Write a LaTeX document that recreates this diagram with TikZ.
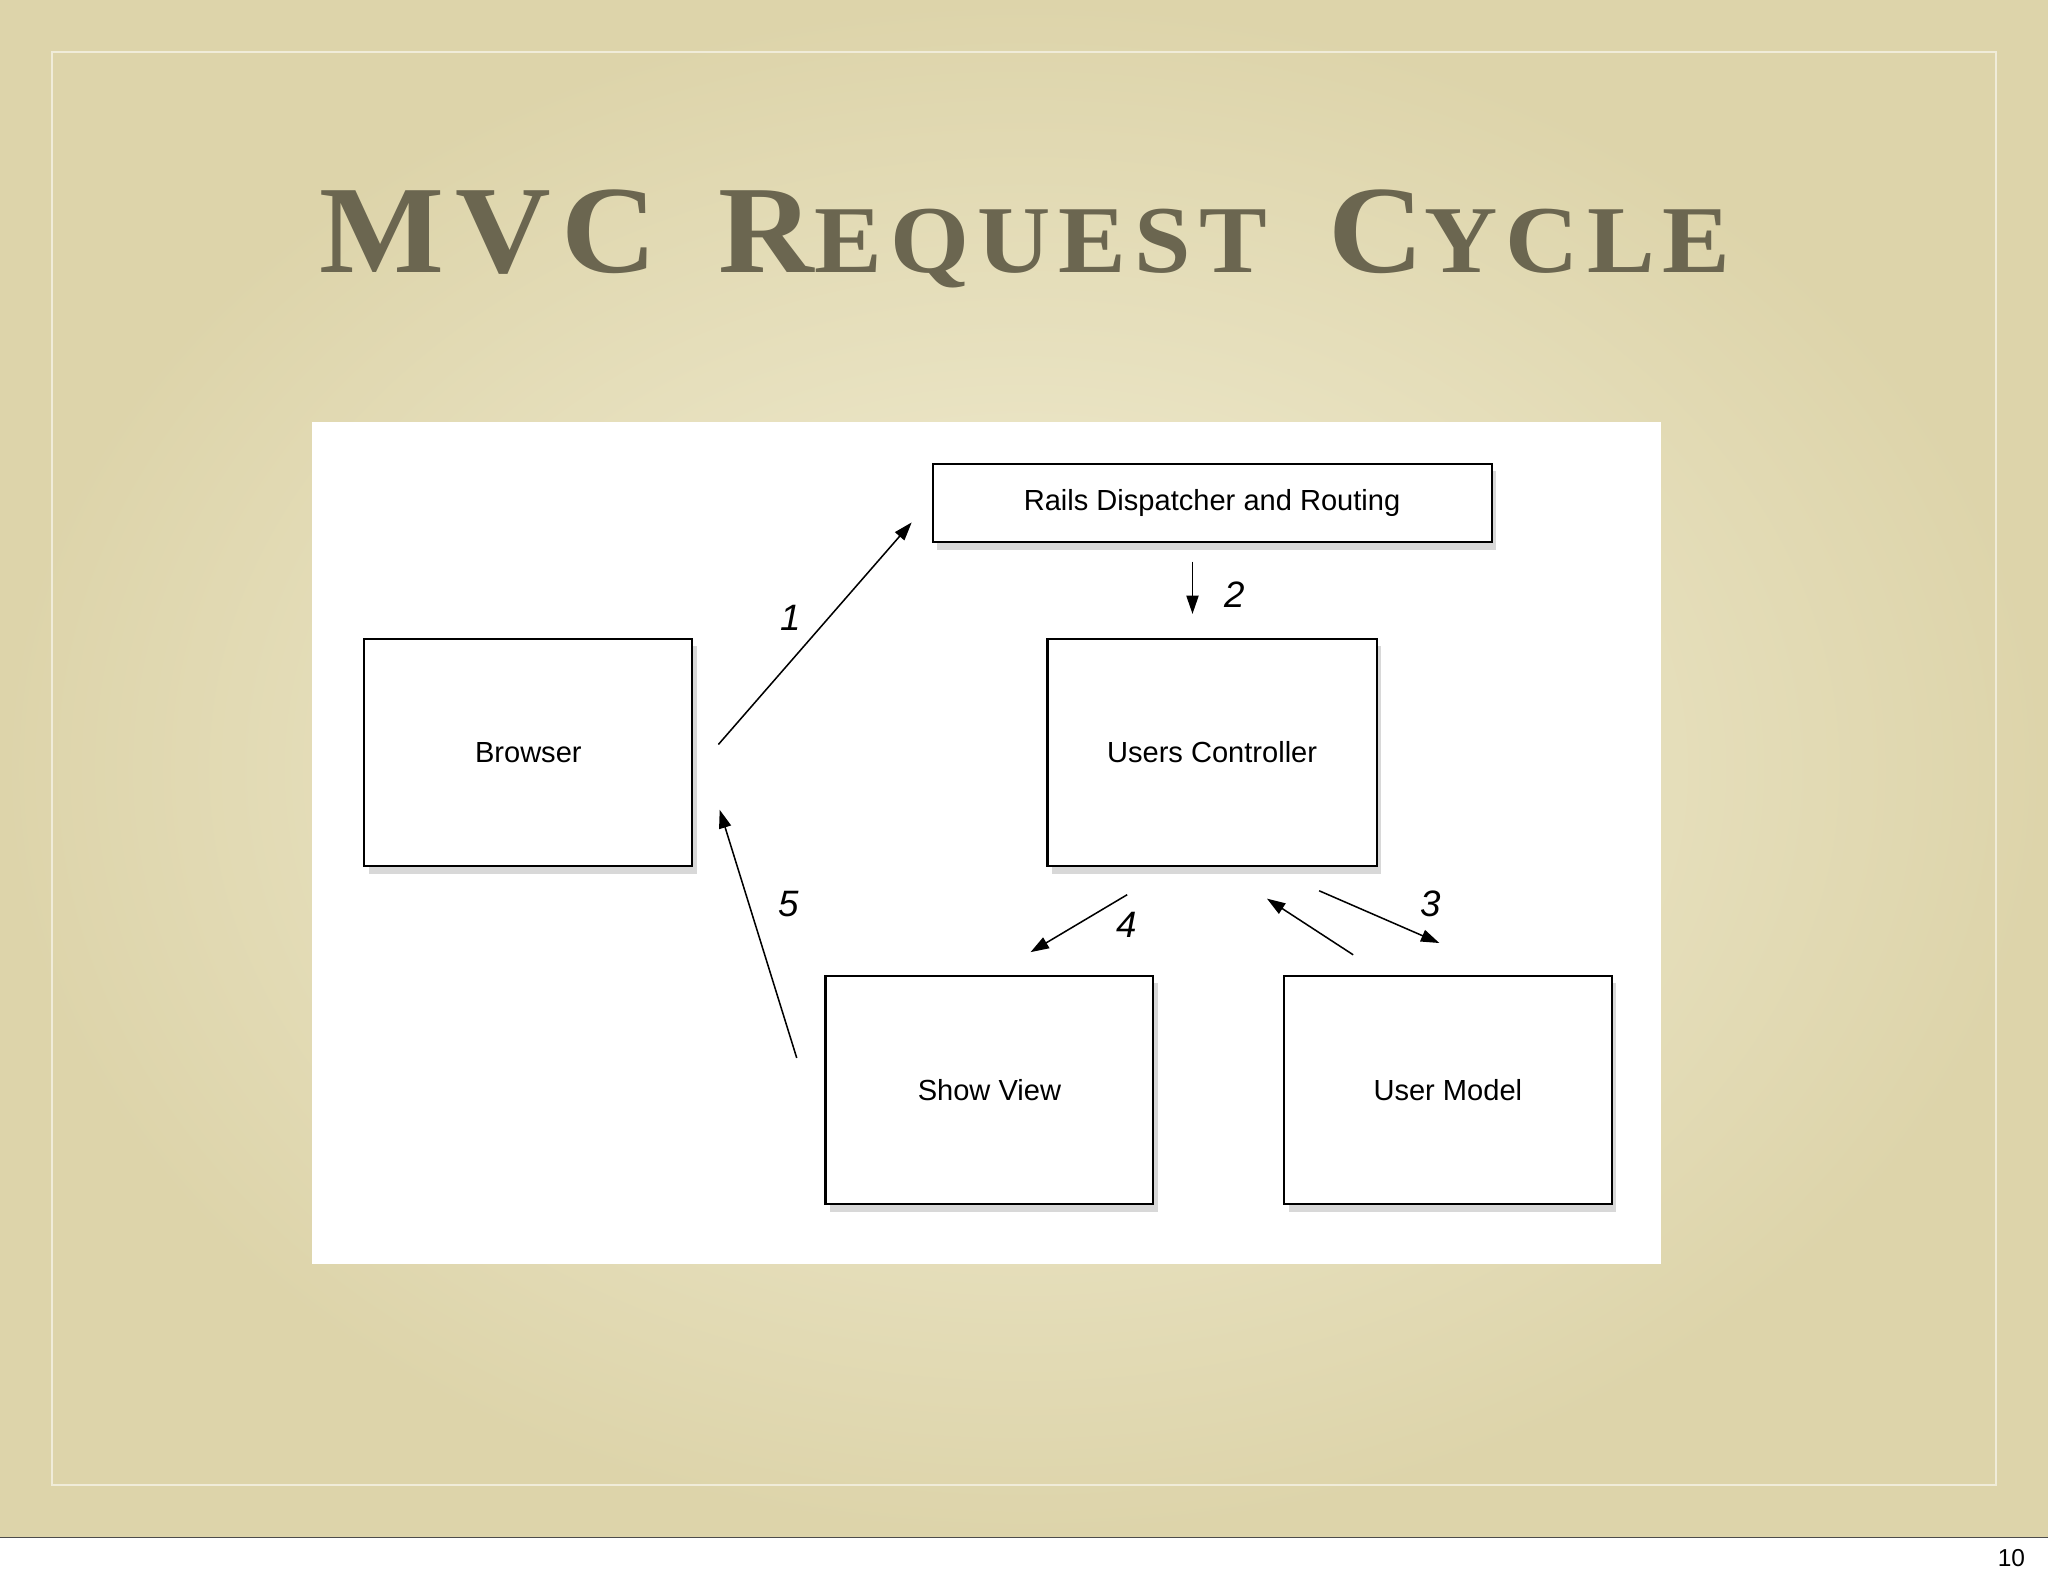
\documentclass[tikz,border=0pt]{standalone}
\usepackage{fontspec}
\setmainfont{Liberation Serif}
\setsansfont{Liberation Sans}
\newfontfamily\titfont[LetterSpace=8]{Liberation Serif}
\usepackage{graphicx}
\usetikzlibrary{arrows.meta,shadows}
\definecolor{bgc}{HTML}{DDD4AA}
\definecolor{bgl}{HTML}{F3EFD6}
\definecolor{titc}{HTML}{6B6650}
\newcommand{\bigc}[1]{{\fontsize{60}{60}\selectfont #1}}
\newcommand{\smc}[1]{{\fontsize{46}{46}\selectfont #1}}
\newcommand{\tgap}{\hspace{28pt}}
\tikzset{
 box/.style={draw=black,line width=1.4pt,fill=white,drop shadow={shadow xshift=3pt,shadow yshift=-5pt,opacity=0.3}},
 lbl/.style={font=\sffamily\fontsize{19}{22}\selectfont},
 num/.style={font=\sffamily\itshape\fontsize{24}{26}\selectfont},
 arr/.style={-{Triangle[length=12pt,width=8pt]},line width=1pt}
}
\begin{document}
\begin{tikzpicture}[x=0.03cm,y=-0.03cm]
\useasboundingbox (0,0) rectangle (1568,1215);
\fill[white] (0,0) rectangle (1568,1215);
\shade[inner color=bgl,outer color=bgc] (0,0) rectangle (1568,1177);
\draw[black!70,line width=0.8pt] (0,1177) -- (1568,1177);
\draw[white!55!bgc,line width=1pt] (40,40) rectangle (1528,1137);
\node[font=\sffamily\fontsize{16}{18}\selectfont] (pg) at (1540,1193) {10};
\node[text=titc] (title) at (785,183) {\resizebox{32.4cm}{1.9cm}{\titfont\bfseries\bigc{MVC}\tgap\bigc{R}\smc{EQUEST}\tgap\bigc{C}\smc{YCLE}}};
\fill[white] (239,323) rectangle (1272,968);
\node[box,lbl,minimum width=428*0.03cm,minimum height=60*0.03cm] (rails) at (928,385) {Rails Dispatcher and Routing};
\node[box,lbl,minimum width=251*0.03cm,minimum height=174*0.03cm] (browser) at (404.5,576) {Browser};
\node[box,lbl,minimum width=252*0.03cm,minimum height=174*0.03cm] (ctrl) at (928,576) {Users Controller};
\node[box,lbl,minimum width=251*0.03cm,minimum height=175*0.03cm] (view) at (757.5,834.5) {Show View};
\node[box,lbl,minimum width=251*0.03cm,minimum height=175*0.03cm] (model) at (1108.5,834.5) {User Model};
\coordinate (a1s) at (550,570); \coordinate (a1e) at (698,400);
\coordinate (a2s) at (913,430); \coordinate (a2e) at (913,470);
\coordinate (a3s) at (1010,682); \coordinate (a3e) at (1102,722);
\coordinate (a6s) at (1036,731); \coordinate (a6e) at (970,688);
\coordinate (a4s) at (863,685); \coordinate (a4e) at (789,729);
\coordinate (a5s) at (610,810); \coordinate (a5e) at (551,620);
\draw[arr] (a1s) -- (a1e);
\draw[arr] (a2s) -- (a2e);
\draw[arr] (a3s) -- (a3e);
\draw[arr] (a6s) -- (a6e);
\draw[arr] (a4s) -- (a4e);
\draw[arr] (a5s) -- (a5e);
\node[num] (n1) at (605,473) {1};
\node[num] (n2) at (945,455) {2};
\node[num] (n3) at (1095,692) {3};
\node[num] (n4) at (863,708) {4};
\node[num] (n5) at (604,692) {5};
\end{tikzpicture}
\end{document}
